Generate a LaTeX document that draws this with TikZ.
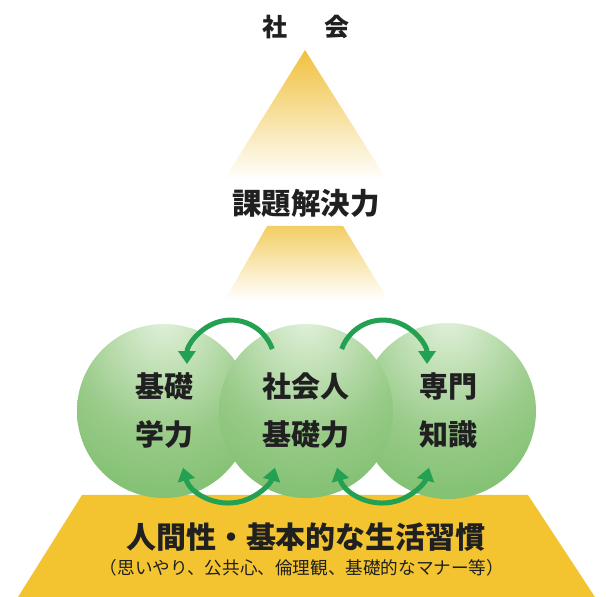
\documentclass[tikz,border=0pt]{standalone}
\usepackage{fontspec}
\newfontfamily\jp{Noto Sans CJK JP}
\usetikzlibrary{arrows.meta}
\definecolor{goldtop}{RGB}{240,193,62}
\definecolor{goldmid}{RGB}{243,206,100}
\definecolor{basegold}{RGB}{243,196,48}
\definecolor{arrgreen}{RGB}{36,160,82}
\definecolor{txtdark}{RGB}{32,32,32}
\definecolor{sphA}{RGB}{228,242,222}
\definecolor{sphA2}{RGB}{205,230,195}
\definecolor{sphB}{RGB}{152,203,136}
\definecolor{sphC}{RGB}{110,183,94}
\definecolor{sphD}{RGB}{76,156,64}
\pgfdeclareradialshading{sphere}{\pgfpoint{0bp}{28bp}}{%
  color(0bp)=(sphA); color(8bp)=(sphA2); color(26bp)=(sphB);
  color(52bp)=(sphC); color(80bp)=(sphD)}
\tikzset{
  ball/.style={circle, inner sep=0pt, shading=sphere, text=txtdark,
    align=center, font=\jp\bfseries\fontsize{29}{48}\selectfont},
  garrow/.style={draw=arrgreen, line width=5pt,
    -{Triangle[width=17pt,length=13pt]}},
  garrowboth/.style={draw=arrgreen, line width=5pt,
    {Triangle[width=17pt,length=13pt]}-{Triangle[width=17pt,length=13pt]}},
  label/.style={text=txtdark, inner sep=0pt}
}
\begin{document}
\begin{tikzpicture}[x=1pt,y=1pt]
\useasboundingbox (0,0) rectangle (606,597);
\fill[white] (0,0) rectangle (606,597);
% fading pyramid parts
\shade[top color=goldtop, bottom color=white] (305,547) -- (387,417) -- (224,417) -- cycle;
\shade[top color=goldmid, bottom color=white] (267,371) -- (343,371) -- (388,297) -- (225,297) -- cycle;
% base
\fill[basegold] (82,102) -- (528,102) -- (595,0) -- (18,0) -- cycle;
% spheres
\node[ball, minimum size=174pt] (L) at (164,186) {基礎\\学力};
\node[ball, minimum size=176pt] (R) at (448,186) {専門\\知識};
\node[ball, minimum size=174pt] (M) at (306,186) {社会人\\基礎力};
% texts
\node[label, font=\jp\bfseries\fontsize{25}{25}\selectfont] (soc) at (306,570) {社\hspace{1.45em}会};
\node[label, font=\jp\bfseries\fontsize{29.5}{30}\selectfont] (kadai) at (306,394) {課題解決力};
\node[label, font=\jp\bfseries\fontsize{30}{30}\selectfont] (ningen) at (306,60) {人間性・基本的な生活習慣};
\node[label, font=\jp\fontsize{17.6}{18}\selectfont] (sub) at (302,29) {（思いやり、公共心、倫理観、基礎的なマナー等）};
% arrows
\coordinate (tl) at (272.3,248);
\coordinate (tr) at (341.7,248);
\coordinate (bl) at (183,129.3);
\coordinate (br) at (337,129.3);
\draw[garrow] (tl) arc[start angle=20, end angle=180, radius=44];
\draw[garrow] (tr) arc[start angle=160, end angle=0, radius=44];
\draw[garrowboth] (bl) arc[start angle=195, end angle=345, radius=47.6];
\draw[garrowboth] (br) arc[start angle=195, end angle=345, radius=47.6];
\end{tikzpicture}
\end{document}
